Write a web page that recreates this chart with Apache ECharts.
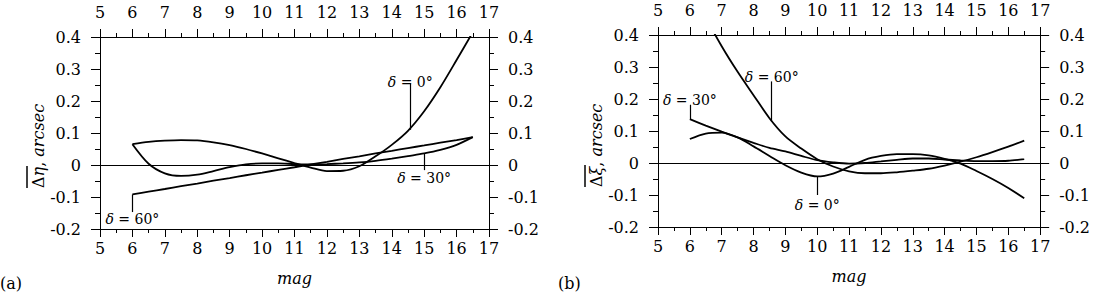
<!DOCTYPE html>
<html><head><meta charset="utf-8">
<script src="https://cdn.jsdelivr.net/npm/echarts@6/dist/echarts.min.js"></script>
<style>html,body{margin:0;padding:0;background:#fff}#c{width:1093px;height:292px}</style>
</head><body><div id="c"></div>
<script>
// ---- data ----
const xTicks = [5, 6, 7, 8, 9, 10, 11, 12, 13, 14, 15, 16, 17];
const yTicks = [-0.2, -0.1, 0, 0.1, 0.2, 0.3, 0.4];
const yTickLabels = ['-0.2', '-0.1', '0', '0.1', '0.2', '0.3', '0.4'];
const mag = [6, 6.5, 7, 7.5, 8, 8.5, 9, 9.5, 10, 10.5, 11, 11.5, 12, 12.5, 13, 13.5, 14, 14.5, 15, 15.5, 16, 16.5];

// (a) mean delta-eta, arcsec
const etaD0  = [0.065, 0.072, 0.076, 0.078, 0.077, 0.071, 0.062, 0.050, 0.036, 0.021, 0.006, -0.008, -0.019, -0.018, -0.004, 0.027, 0.063, 0.107, 0.168, 0.243, 0.328, 0.415];
const etaD30 = [0.065, 0.004, -0.026, -0.034, -0.030, -0.019, -0.007, 0.002, 0.005, 0.005, 0.003, 0.002, 0.003, 0.005, 0.008, 0.013, 0.020, 0.028, 0.036, 0.047, 0.063, 0.087];
const etaD60 = [-0.092, -0.083, -0.075, -0.066, -0.058, -0.049, -0.041, -0.032, -0.024, -0.015, -0.007, 0.002, 0.010, 0.019, 0.027, 0.036, 0.044, 0.053, 0.061, 0.070, 0.078, 0.087];

// (b) mean delta-xi, arcsec
const xiD0  = [0.075, 0.092, 0.095, 0.080, 0.052, 0.022, -0.007, -0.030, -0.042, -0.033, -0.012, 0.010, 0.022, 0.028, 0.028, 0.024, 0.013, -0.002, -0.025, -0.050, -0.078, -0.110];
const xiD30 = [0.137, 0.117, 0.098, 0.080, 0.063, 0.047, 0.036, 0.022, 0.009, 0.002, -0.002, 0.000, 0.005, 0.010, 0.014, 0.014, 0.011, 0.008, 0.006, 0.006, 0.007, 0.012];
const xiD60 = [0.560, 0.455, 0.365, 0.285, 0.212, 0.140, 0.083, 0.045, 0.012, -0.011, -0.026, -0.032, -0.032, -0.029, -0.024, -0.018, -0.008, 0.004, 0.018, 0.034, 0.051, 0.070];

// curve labels: declination, pointer x, pointer from/to y, label y (data units)
const annotEta = [
  { dec: '0°',  x: 14.57, y1: 0.110, y2: 0.255, ly: 0.258 },
  { dec: '30°', x: 15.0,  y1: 0.036, y2: -0.016, ly: -0.040 },
  { dec: '60°', x: 6.0,   y1: -0.092, y2: -0.147, ly: -0.168 }
];
const annotXi = [
  { dec: '60°', x: 8.57, y1: 0.130, y2: 0.255, ly: 0.270 },
  { dec: '30°', x: 6.0,  y1: 0.137, y2: 0.182, ly: 0.196 },
  { dec: '0°',  x: 10.0, y1: -0.042, y2: -0.100, ly: -0.130 }
];

// ---- chart ----
const FONT = 'DejaVu Serif';
const pair = ys => mag.map((m, i) => [m, ys[i]]);
const yFmt = v => { const r = Math.round(v * 10) / 10; const i = yTicks.findIndex(t => Math.abs(t - r) < 1e-9); return i >= 0 ? yTickLabels[i] : ''; };

const grids = [
  { left: 100, top: 37, width: 389, height: 192 },
  { left: 658, top: 35, width: 389, height: 192 }
];

function xAx(g, pos) {
  return {
    type: 'value', gridIndex: g, position: pos,
    min: xTicks[0], max: xTicks[xTicks.length - 1], interval: 1,
    axisLine: { show: true, onZero: false, lineStyle: { color: '#000', width: 1 } },
    axisTick: { show: true, inside: false, length: 8, lineStyle: { color: '#000', width: 1 } },
    minorTick: { show: true, splitNumber: 2, length: 4, lineStyle: { color: '#000', width: 1 } },
    splitLine: { show: false },
    axisLabel: { color: '#000', fontFamily: FONT, fontSize: 16, margin: pos === 'top' ? 17 : 11 },
    name: pos === 'bottom' ? 'mag' : '',
    nameLocation: 'middle', nameGap: 41,
    nameTextStyle: { color: '#000', fontFamily: FONT, fontStyle: 'italic', fontSize: 16 }
  };
}
function yAx(g, pos) {
  return {
    type: 'value', gridIndex: g, position: pos,
    min: yTicks[0], max: yTicks[yTicks.length - 1], interval: 0.1,
    axisLine: { show: true, onZero: false, lineStyle: { color: '#000', width: 1 } },
    axisTick: { show: true, inside: false, length: 9, lineStyle: { color: '#000', width: 1 } },
    minorTick: { show: true, splitNumber: 2, length: 5, lineStyle: { color: '#000', width: 1 } },
    splitLine: { show: false },
    axisLabel: { color: '#000', fontFamily: FONT, fontSize: 16, margin: 19, formatter: yFmt }
  };
}

const labelRich = {
  i: { fontFamily: FONT, fontStyle: 'italic', fontSize: 14, color: '#000' },
  u: { fontFamily: FONT, fontSize: 14, color: '#000' }
};

function curve(name, g, ys, annots) {
  const s = {
    type: 'line', name, xAxisIndex: g * 2, yAxisIndex: g * 2,
    data: pair(ys), showSymbol: false, smooth: 0.3, clip: true,
    lineStyle: { color: '#000', width: 1.8 }, silent: true
  };
  if (annots) {
    s.markLine = {
      silent: true, symbol: ['none', 'none'], animation: false,
      label: { show: false },
      lineStyle: { color: '#000', width: 1.2, type: 'solid' },
      data: [{ yAxis: 0, lineStyle: { width: 1 } }].concat(
        annots.map(a => [{ coord: [a.x, a.y1] }, { coord: [a.x, a.y2] }]))
    };
    s.markPoint = {
      silent: true, symbol: 'circle', symbolSize: 0, animation: false,
      label: { show: true, position: 'inside', rich: labelRich },
      data: annots.map(a => ({ coord: [a.x, a.ly], label: { formatter: '{i|δ}{u| = ' + a.dec + '}' } }))
    };
  }
  return s;
}

function yTitle(x, yBottom, greek) {
  return {
    type: 'group', x: x, y: yBottom, rotation: Math.PI / 2,
    children: [
      { type: 'text', x: 0, y: 0, style: {
          text: '{u|Δ}{i|' + greek + '}{u|, }{i|arcsec}',
          rich: {
            u: { fontFamily: FONT, fontSize: 16, fill: '#000' },
            i: { fontFamily: FONT, fontSize: 16, fontStyle: 'italic', fill: '#000' }
          },
          align: 'left', verticalAlign: 'middle' } },
      { type: 'line', shape: { x1: 0, y1: -11, x2: 22, y2: -11 }, style: { stroke: '#000', lineWidth: 1.5 } }
    ]
  };
}

const chart = echarts.init(document.getElementById('c'), null, { renderer: 'svg' });
chart.setOption({
  animation: false,
  backgroundColor: '#fff',
  grid: grids,
  xAxis: [xAx(0, 'bottom'), xAx(0, 'top'), xAx(1, 'bottom'), xAx(1, 'top')],
  yAxis: [yAx(0, 'left'), yAx(0, 'right'), yAx(1, 'left'), yAx(1, 'right')],
  series: [
    curve('δ = 0°', 0, etaD0, annotEta),
    curve('δ = 30°', 0, etaD30),
    curve('δ = 60°', 0, etaD60),
    curve('δ = 0°', 1, xiD0, annotXi),
    curve('δ = 30°', 1, xiD30),
    curve('δ = 60°', 1, xiD60)
  ],
  graphic: [
    yTitle(38, 188, 'η'),
    yTitle(596, 187, 'ξ'),
    { type: 'text', x: 0, y: 283, style: { text: '(a)', font: '16px "DejaVu Serif"', fill: '#000', verticalAlign: 'middle' } },
    { type: 'text', x: 558, y: 283, style: { text: '(b)', font: '16px "DejaVu Serif"', fill: '#000', verticalAlign: 'middle' } }
  ]
});
</script></body></html>
